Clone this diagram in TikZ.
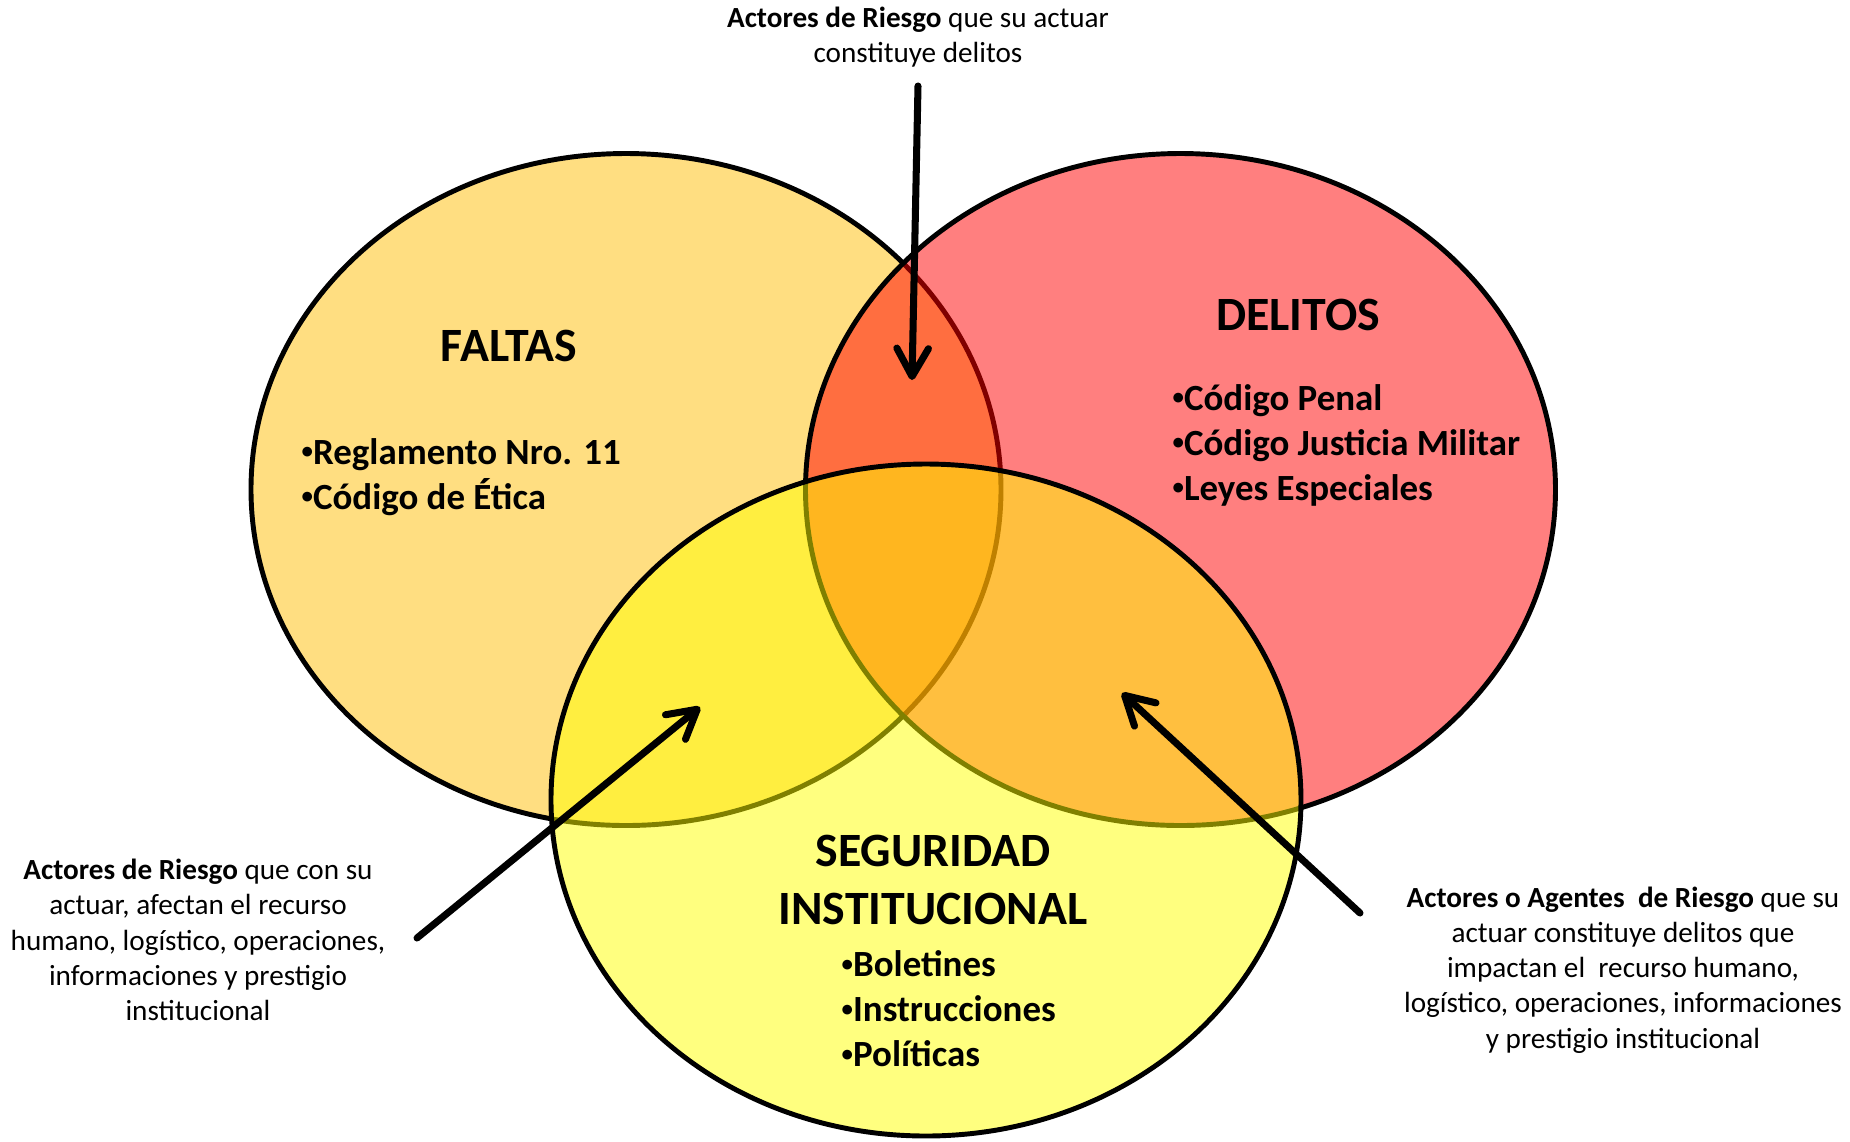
\documentclass[tikz,border=0pt]{standalone}
\usepackage{fontspec}
\setmainfont{Carlito}
\usetikzlibrary{arrows.meta}
\definecolor{cfal}{RGB}{255,190,4}
\definecolor{cdel}{RGB}{255,0,0}
\definecolor{cseg}{RGB}{255,255,0}
\newcommand\smbul{{\fontsize{6.5}{6.5}\selectfont\raisebox{1.6pt}{•}}}
\begin{document}
\begin{tikzpicture}[x=0.01cm,y=-0.01cm,
  venn/.style={line width=1.4pt, draw=black, fill opacity=0.5},
  arr/.style={line width=2pt, line cap=round, -{Straight Barb[length=8pt,width=9pt,round]}},
  captxt/.style={font=\fontsize{8.3}{10}\selectfont, align=center, inner sep=0pt},
  titletxt/.style={font=\fontsize{13.6}{16.5}\selectfont\bfseries, align=center, inner sep=0pt},
  itemtxt/.style={font=\fontsize{10.5}{12.8}\selectfont\bfseries, align=left, anchor=west, inner sep=0pt}]
\useasboundingbox (0,0) rectangle (1850,1141);
\fill[white] (0,0) rectangle (1850,1141);
% circles
\draw[venn, fill=cfal] (626,489.5) ellipse [x radius=375, y radius=336];
\draw[venn, fill=cdel] (1180.5,489.5) ellipse [x radius=375, y radius=336];
\draw[venn, fill=cseg] (926,800) ellipse [x radius=375, y radius=336];
% titles
\node[titletxt] (faltas) at (509,346) {FALTAS};
\node[titletxt] (delitos) at (1298,315) {DELITOS};
\node[titletxt] (seg) at (933,880) {SEGURIDAD\\INSTITUCIONAL};
% items
\node[itemtxt] (fitems) at (301,477) {\smbul Reglamento Nro. 11\\\smbul Código de Ética};
\node[itemtxt] (ditems) at (1172,445) {\smbul Código Penal\\\smbul Código Justicia Militar\\\smbul Leyes Especiales};
\node[itemtxt] (sitems) at (841,1009) {\smbul Boletines\\\smbul Instrucciones\\\smbul Políticas};
% captions
\node[captxt] (ctop) at (918,37) {\textbf{Actores de Riesgo} que su actuar\\constituye delitos};
\node[captxt] (cleft) at (198,940) {\textbf{Actores de Riesgo} que con su\\actuar, afectan el recurso\\humano, logístico, operaciones,\\informaciones y prestigio\\institucional};
\node[captxt] (cright) at (1623,970) {\textbf{Actores o Agentes\ \ de Riesgo} que su\\actuar constituye delitos que\\impactan el\ \ recurso humano,\\logístico, operaciones, informaciones\\y prestigio institucional};
% arrows
\coordinate (ta) at (918,86);
\coordinate (tb) at (912,380);
\coordinate (la) at (417,938);
\coordinate (lb) at (700,707);
\coordinate (ra) at (1360,913);
\coordinate (rb) at (1122,693);
\draw[arr] (ta) -- (tb);
\draw[arr] (la) -- (lb);
\draw[arr] (ra) -- (rb);
\end{tikzpicture}
\end{document}
